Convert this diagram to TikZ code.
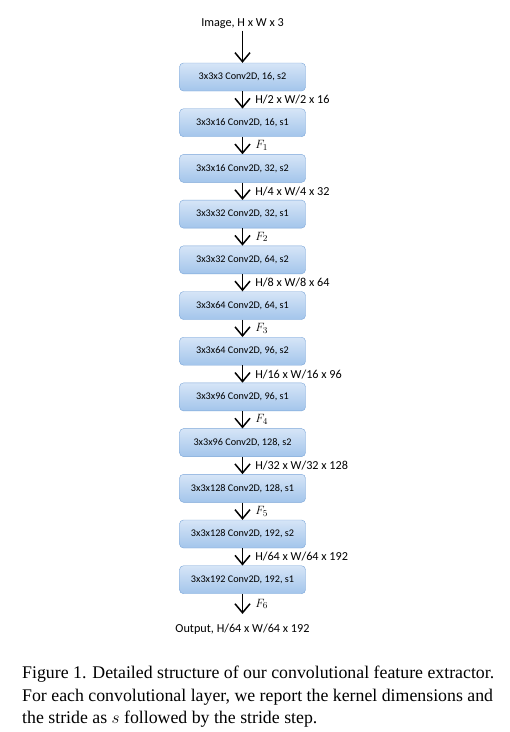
\documentclass[tikz,border=0pt]{standalone}
\usepackage{fontspec}
\setmainfont{Liberation Serif}
\newfontfamily\boxfont{Carlito}
\usetikzlibrary{positioning,arrows.meta}
\definecolor{boxline}{RGB}{122,165,216}
\definecolor{boxtop}{RGB}{214,229,247}
\definecolor{boxbot}{RGB}{163,197,235}
\tikzset{
  cv/.style={draw=boxline, rounded corners=4pt, top color=boxtop,
             bottom color=boxbot, minimum width=126pt, minimum height=28pt,
             inner sep=0pt, font=\boxfont\fontsize{10.2}{12}\selectfont},
  io/.style={inner sep=3pt, font=\boxfont\fontsize{12.2}{14}\selectfont},
  lb/.style={right=11pt, inner sep=1pt, font=\boxfont\fontsize{12.2}{14}\selectfont},
  fa/.style={-{Straight Barb[length=9pt,width=15pt]}, line width=1.5pt}
}
\begin{document}
\begin{tikzpicture}[x=1pt, y=1pt, node distance=17.3pt]
  \useasboundingbox (0,0) rectangle (510,-732);
  \node[io, inner sep=1.5pt] (img) at (242.5,-24) {Image, H x W x 3};
  \node[cv] (c1) at (242.5,-77) {3x3x3 Conv2D, 16, s2};
  \node[cv, below=of c1] (c2) {3x3x16 Conv2D, 16, s1};
  \node[cv, below=of c2] (c3) {3x3x16 Conv2D, 32, s2};
  \node[cv, below=of c3] (c4) {3x3x32 Conv2D, 32, s1};
  \node[cv, below=of c4] (c5) {3x3x32 Conv2D, 64, s2};
  \node[cv, below=of c5] (c6) {3x3x64 Conv2D, 64, s1};
  \node[cv, below=of c6] (c7) {3x3x64 Conv2D, 96, s2};
  \node[cv, below=of c7] (c8) {3x3x96 Conv2D, 96, s1};
  \node[cv, below=of c8] (c9) {3x3x96 Conv2D, 128, s2};
  \node[cv, below=of c9] (c10) {3x3x128 Conv2D, 128, s1};
  \node[cv, below=of c10] (c11) {3x3x128 Conv2D, 192, s2};
  \node[cv, below=of c11] (c12) {3x3x192 Conv2D, 192, s1};
  \node[io, below=26pt of c12, inner sep=4pt] (out) {Output, H/64 x W/64 x 192};
  \draw[fa] (img) -- (c1);
  \draw[fa] (c1) -- node[lb]{H/2 x W/2 x 16} (c2);
  \draw[fa] (c2) -- node[lb]{$F_1$} (c3);
  \draw[fa] (c3) -- node[lb]{H/4 x W/4 x 32} (c4);
  \draw[fa] (c4) -- node[lb]{$F_2$} (c5);
  \draw[fa] (c5) -- node[lb]{H/8 x W/8 x 64} (c6);
  \draw[fa] (c6) -- node[lb]{$F_3$} (c7);
  \draw[fa] (c7) -- node[lb]{H/16 x W/16 x 96} (c8);
  \draw[fa] (c8) -- node[lb]{$F_4$} (c9);
  \draw[fa] (c9) -- node[lb]{H/32 x W/32 x 128} (c10);
  \draw[fa] (c10) -- node[lb]{$F_5$} (c11);
  \draw[fa] (c11) -- node[lb]{H/64 x W/64 x 192} (c12);
  \draw[fa] (c12) -- node[lb]{$F_6$} ([yshift=6pt]out.north);
  % caption
  \node[anchor=north west, align=left, inner sep=0pt,
        font=\fontsize{17.8}{22.5}\selectfont] (cap) at (22,-666)
    {Figure 1. Detailed structure of our convolutional feature extractor.\\
     For each convolutional layer, we report the kernel dimensions and\\
     the stride as $s$ followed by the stride step.};
\end{tikzpicture}
\end{document}
